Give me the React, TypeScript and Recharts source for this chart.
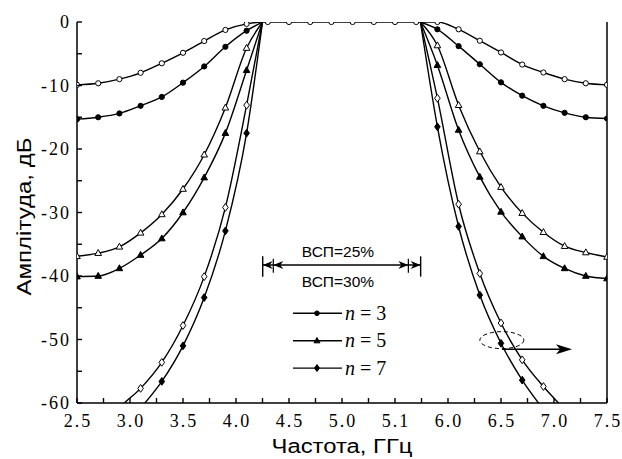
import React from 'react';
import { LineChart, Line, XAxis, YAxis, ReferenceLine, ReferenceDot } from 'recharts';

// ---------- data (frequency on the plotted axis, amplitude in dB) ----------
const xLeft = [2.5, 2.7, 2.9, 3.1, 3.3, 3.5, 3.7, 3.9, 4.1];
const xPass = [4.3, 4.5, 4.7, 4.9, 5.1, 5.3, 5.5, 5.7];
const xRight = [5.9, 6.1, 6.3, 6.5, 6.7, 6.9, 7.1, 7.3, 7.5];
const bandEdges = [4.25, 5.74];

// n = 3
const n3aLeft = [-9.9, -9.65, -9.0, -8.0, -6.5, -4.85, -3.0, -1.25, -0.3];
const n3aRight = [0, -1.15, -2.95, -4.8, -6.7, -7.95, -9.0, -9.65, -9.9];
const n3bLeft = [-15.3, -15.0, -14.4, -13.2, -11.8, -9.55, -7.0, -3.9, -1.37];
const n3bRight = [-1.15, -3.8, -6.65, -9.5, -11.6, -13.2, -14.3, -15.0, -15.2];
// n = 5
const n5aLeft = [-36.9, -36.4, -35.4, -33.2, -30.3, -26.3, -20.9, -13.5, -4.1];
const n5aRight = [-3.7, -13.1, -20.4, -26.0, -30.1, -33.1, -35.3, -36.3, -37.0];
const n5bLeft = [-40.1, -40.0, -38.8, -36.7, -34.1, -30.0, -24.5, -17.5, -7.6];
const n5bRight = [-6.8, -17.0, -24.4, -29.9, -33.8, -36.9, -38.8, -40.0, -40.4];
// n = 7
const n7aLeft = [-70, -65.5, -60.8, -57.7, -53.6, -47.8, -40.1, -29.2, -13.1];
const n7aRight = [-12.0, -28.7, -39.6, -47.4, -53.2, -57.4, -61.0, -64.5, -68];
const n7bLeft = [-74, -69, -64.5, -60.8, -56.6, -51.0, -43.4, -32.9, -17.5];
const n7bRight = [-16.5, -32.2, -43.0, -50.6, -56.4, -61.0, -65, -69, -73];

// ---------- axes ----------
const xMajorTicks = [2.5, 3, 3.5, 4, 4.5, 5, 5.5, 6, 6.5, 7, 7.5];
const xTickLabels = ['2.5', '3.0', '3.5', '4.0', '4.5', '5.0', '5.1', '6.0', '6.5', '7.0', '7.5'];
const xMinorTicks = [2.75, 3.25, 3.75, 4.25, 4.75, 5.25, 5.75, 6.25, 6.75, 7.25];
const yMajorTicks = [0, -10, -20, -30, -40, -50, -60];
const yTickLabels = ['0', '-10', '-20', '-30', '-40', '-50', '-60'];
const yMinorTicks = [-5, -15, -25, -35, -45, -55];

// ---------- annotations ----------
const bwOuter = [4.252, 5.742];
const bwInner = [4.352, 5.626];
const bwY = -38.27;
const bwLabels = ['ВСП=25%', 'ВСП=30%'];
const bwLabelPos = [
  { x: 4.962, y: -37.0 },
  { x: 4.962, y: -41.7 },
];
const legendNames = ['3', '5', '7'];
const legendPos = [
  { x: 4.764, y: -45.87 },
  { x: 4.764, y: -50.2 },
  { x: 4.764, y: -54.5 },
];
const ellipsePos = { x: 6.508, y: -50.1 };
const pointerArrow = { x1: 6.51, x2: 7.17, y: -51.54 };

const xTicks = [...xMajorTicks, ...xMinorTicks].sort((a, b) => a - b);
const yTicks = [...yMajorTicks, ...yMinorTicks].sort((a, b) => a - b);

type Pt = { x: number; y: number | null; m: boolean };

function buildWithPass(left: number[], right: number[]): Pt[] {
  return [
    ...xLeft.map((x, i) => ({ x, y: left[i], m: true })),
    { x: bandEdges[0], y: 0, m: false },
    ...xPass.map((x) => ({ x, y: 0, m: true })),
    { x: bandEdges[1], y: 0, m: false },
    ...xRight.map((x, i) => ({ x, y: right[i], m: true })),
  ];
}
function buildSkirts(left: number[], right: number[]): Pt[] {
  return [
    ...xLeft.map((x, i) => ({ x, y: left[i], m: true })),
    { x: bandEdges[0], y: 0, m: false },
    { x: (bandEdges[0] + bandEdges[1]) / 2, y: null, m: false },
    { x: bandEdges[1], y: 0, m: false },
    ...xRight.map((x, i) => ({ x, y: right[i], m: true })),
  ];
}

const series = [
  { key: 'n7b', data: buildSkirts(n7bLeft, n7bRight), kind: 'fd' },
  { key: 'n7a', data: buildSkirts(n7aLeft, n7aRight), kind: 'od' },
  { key: 'n5b', data: buildSkirts(n5bLeft, n5bRight), kind: 'ft' },
  { key: 'n5a', data: buildSkirts(n5aLeft, n5aRight), kind: 'ot' },
  { key: 'n3b', data: buildSkirts(n3bLeft, n3bRight), kind: 'fc' },
  { key: 'n3a', data: buildWithPass(n3aLeft, n3aRight), kind: 'oc' },
];

const SERIF = "'Liberation Serif', 'DejaVu Serif', 'Times New Roman', serif";
const SANS = "'Liberation Sans', Arial, sans-serif";

function marker(kind: string, cx: number, cy: number, scale = 1) {
  const s = scale;
  const open = kind[0] === 'o';
  const fill = open ? '#fff' : '#000';
  const sw = 1;
  if (kind[1] === 'c') {
    return <circle cx={cx} cy={cy} r={2.6 * s} fill={fill} stroke="#000" strokeWidth={sw} />;
  }
  if (kind[1] === 't') {
    const d = `M${cx},${cy - 3.6 * s} L${cx + 3.3 * s},${cy + 2.3 * s} L${cx - 3.3 * s},${cy + 2.3 * s} Z`;
    return <path d={d} fill={fill} stroke="#000" strokeWidth={sw} />;
  }
  const d = `M${cx},${cy - 3.9 * s} L${cx + 2.8 * s},${cy} L${cx},${cy + 3.9 * s} L${cx - 2.8 * s},${cy} Z`;
  return <path d={d} fill={fill} stroke="#000" strokeWidth={sw} />;
}

const makeDot = (kind: string) => (props: any) => {
  const { cx, cy, payload, index } = props;
  if (!payload || !payload.m || payload.y == null || payload.y < -60 || cx == null || cy == null) {
    return <g key={`e-${index}`} />;
  }
  return <g key={`d-${index}`}>{marker(kind, cx, cy)}</g>;
};

const serifStyle: React.CSSProperties = { fontFamily: SERIF, fontSize: 18, letterSpacing: 2 };

const LeftTick = (props: any) => {
  const { x, y, payload } = props;
  const i = yMajorTicks.indexOf(payload.value);
  return (
    <g>
      <line x1={x} x2={x + 5} y1={y} y2={y} stroke="#000" strokeWidth={1.4} />
      {i >= 0 && (
        <text x={x - 6} y={y + 6} textAnchor="end" style={serifStyle} fill="#000">
          {yTickLabels[i]}
        </text>
      )}
    </g>
  );
};
const RightTick = (props: any) => {
  const { x, y } = props;
  return <line x1={x} x2={x - 5} y1={y} y2={y} stroke="#000" strokeWidth={1.4} />;
};
const BottomTick = (props: any) => {
  const { x, y, payload } = props;
  const i = xMajorTicks.indexOf(payload.value);
  return (
    <g>
      <line x1={x} x2={x} y1={y} y2={y - 5} stroke="#000" strokeWidth={1.4} />
      {i >= 0 && (
        <text x={x + 1} y={y + 24} textAnchor="middle" style={serifStyle} fill="#000">
          {xTickLabels[i]}
        </text>
      )}
    </g>
  );
};

const YTitle = (props: any) => {
  const vb = props.viewBox || { x: 0, y: 0, width: 0, height: 0 };
  const cx = vb.x + 24;
  const cy = vb.y + vb.height / 2 + 4;
  return (
    <text
      x={cx}
      y={cy}
      transform={`rotate(-90 ${cx} ${cy})`}
      textAnchor="middle"
      dominantBaseline="central"
      style={{ fontFamily: SANS, fontSize: 20 }}
      textLength={158}
      lengthAdjust="spacingAndGlyphs"
      fill="#000"
    >
      Амплітуда, дБ
    </text>
  );
};
const XTitle = (props: any) => {
  const vb = props.viewBox || { x: 0, y: 0, width: 0, height: 0 };
  return (
    <text
      x={vb.x + vb.width / 2}
      y={vb.y + 50}
      textAnchor="middle"
      style={{ fontFamily: SANS, fontSize: 20 }}
      textLength={141}
      lengthAdjust="spacingAndGlyphs"
      fill="#000"
    >
      Частота, ГГц
    </text>
  );
};

const arrowLeft = (props: any) => {
  const { cx, cy } = props;
  return <path d={`M${cx},${cy} L${cx + 10},${cy - 4} L${cx + 7},${cy} L${cx + 10},${cy + 4} Z`} fill="#000" />;
};
const arrowRight = (props: any) => {
  const { cx, cy } = props;
  return <path d={`M${cx},${cy} L${cx - 10},${cy - 4} L${cx - 7},${cy} L${cx - 10},${cy + 4} Z`} fill="#000" />;
};
const bigArrowRight = (props: any) => {
  const { cx, cy } = props;
  return <path d={`M${cx},${cy} L${cx - 16},${cy - 5} L${cx - 12},${cy} L${cx - 16},${cy + 5} Z`} fill="#000" />;
};
const makeTextShape = (label: string) => (props: any) => {
  const { cx, cy } = props;
  return (
    <text x={cx} y={cy} textAnchor="middle" style={{ fontFamily: SANS, fontSize: 15.5 }} fill="#000">
      {label}
    </text>
  );
};
const ellipseShape = (props: any) => {
  const { cx, cy } = props;
  return <ellipse cx={cx} cy={cy} rx={22} ry={8.5} fill="none" stroke="#000" strokeWidth={1} strokeDasharray="4 3" />;
};
const legendKinds = ['fc', 'ft', 'fd'];
const makeLegendShape = (i: number) => (props: any) => {
  const { cx, cy } = props;
  return (
    <g>
      <line x1={cx - 24} x2={cx + 25} y1={cy} y2={cy} stroke="#000" strokeWidth={1.4} />
      {marker(legendKinds[i], cx, cy, 0.9)}
      <text x={cx + 28} y={cy + 6.5} style={{ fontFamily: SERIF, fontSize: 20 }} fill="#000">
        <tspan style={{ fontStyle: 'italic' }}>n</tspan> = {legendNames[i]}
      </text>
    </g>
  );
};

export default function App() {
  return (
    <div style={{ position: 'absolute', left: 0, top: 0, width: 622, height: 459, background: '#fff' }}>
      <LineChart width={622} height={459} margin={{ top: 22, right: 0, bottom: 0, left: 0 }}>
        <XAxis
          xAxisId={0}
          dataKey="x"
          type="number"
          domain={[2.5, 7.5]}
          ticks={xTicks}
          interval={0}
          height={56}
          tickSize={0}
          tickMargin={0}
          tickLine={false}
          axisLine={{ stroke: '#000', strokeWidth: 1.5 }}
          tick={<BottomTick />}
          allowDataOverflow
          label={<XTitle />}
        />
        <XAxis
          xAxisId="top"
          orientation="top"
          type="number"
          domain={[2.5, 7.5]}
          height={0}
          tick={false}
          tickLine={false}
          axisLine={{ stroke: '#000', strokeWidth: 1.5 }}
        />
        <YAxis
          yAxisId={0}
          type="number"
          domain={[-60, 0]}
          ticks={yTicks}
          interval={0}
          width={77}
          tickSize={0}
          tickMargin={0}
          tickLine={false}
          axisLine={{ stroke: '#000', strokeWidth: 1.5 }}
          tick={<LeftTick />}
          allowDataOverflow
          label={<YTitle />}
        />
        <YAxis
          yAxisId="right"
          orientation="right"
          type="number"
          domain={[-60, 0]}
          ticks={yTicks}
          interval={0}
          width={15}
          tickSize={0}
          tickMargin={0}
          tickLine={false}
          axisLine={{ stroke: '#000', strokeWidth: 1.5 }}
          tick={<RightTick />}
        />

        {series.map((s) => (
          <Line
            key={s.key}
            data={s.data}
            dataKey="y"
            type="monotone"
            stroke="#000"
            strokeWidth={1.4}
            dot={makeDot(s.kind)}
            activeDot={false}
            connectNulls={false}
            isAnimationActive={false}
          />
        ))}

        {/* bandwidth arrows */}
        <ReferenceLine segment={[{ x: bwOuter[0], y: bwY }, { x: bwOuter[1], y: bwY }]} stroke="#000" strokeWidth={1.6} />
        <ReferenceLine segment={[{ x: bwOuter[0], y: -36.9 }, { x: bwOuter[0], y: -40.1 }]} stroke="#000" strokeWidth={1.4} />
        <ReferenceLine segment={[{ x: bwOuter[1], y: -36.9 }, { x: bwOuter[1], y: -40.1 }]} stroke="#000" strokeWidth={1.4} />
        <ReferenceLine segment={[{ x: bwInner[0], y: -37.3 }, { x: bwInner[0], y: -39.5 }]} stroke="#000" strokeWidth={1.2} />
        <ReferenceLine segment={[{ x: bwInner[1], y: -37.3 }, { x: bwInner[1], y: -39.5 }]} stroke="#000" strokeWidth={1.2} />
        <ReferenceDot x={bwOuter[0]} y={bwY} shape={arrowLeft} />
        <ReferenceDot x={bwInner[0]} y={bwY} shape={arrowLeft} />
        <ReferenceDot x={bwOuter[1]} y={bwY} shape={arrowRight} />
        <ReferenceDot x={bwInner[1]} y={bwY} shape={arrowRight} />
        {bwLabels.map((l, i) => (
          <ReferenceDot key={l} x={bwLabelPos[i].x} y={bwLabelPos[i].y} shape={makeTextShape(l)} />
        ))}

        {/* legend */}
        {legendNames.map((n, i) => (
          <ReferenceDot key={n} x={legendPos[i].x} y={legendPos[i].y} shape={makeLegendShape(i)} />
        ))}

        {/* pointer */}
        <ReferenceDot x={ellipsePos.x} y={ellipsePos.y} shape={ellipseShape} />
        <ReferenceLine
          segment={[{ x: pointerArrow.x1, y: pointerArrow.y }, { x: pointerArrow.x2 - 0.08, y: pointerArrow.y }]}
          stroke="#000"
          strokeWidth={1.6}
        />
        <ReferenceDot x={pointerArrow.x2} y={pointerArrow.y} shape={bigArrowRight} />
      </LineChart>
    </div>
  );
}
